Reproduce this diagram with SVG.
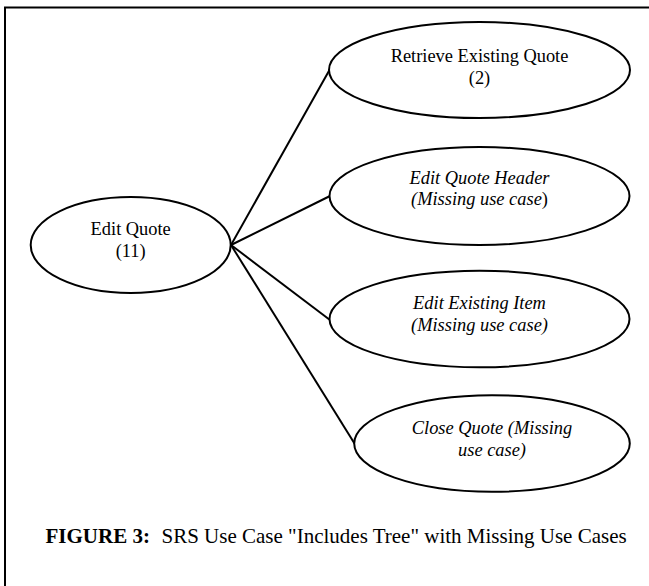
<svg xmlns="http://www.w3.org/2000/svg" width="649" height="586" viewBox="0 0 649 586">
<style>
.node ellipse { fill: #fff; stroke: #000; stroke-width: 2; }
.node text { font-family: "Liberation Serif", "Times New Roman", serif; font-size: 18.4px; fill: #000; text-anchor: middle; }
.it { font-style: italic; }
.conn line { stroke: #000; stroke-width: 2; }
.cap { font-family: "Liberation Serif", "Times New Roman", serif; font-size: 21px; fill: #000; }
</style>
<rect width="649" height="586" fill="#fff"/>
<g id="frame" fill="none" stroke="#000" stroke-width="2">
  <path d="M5,586 V7.5 H649"/>
</g>
<g id="connectors" class="conn">
  <line x1="231" y1="245" x2="329.5" y2="70"/>
  <line x1="231" y1="245" x2="330" y2="196"/>
  <line x1="231" y1="245" x2="330" y2="320"/>
  <line x1="231" y1="245" x2="354.5" y2="443.5"/>
</g>
<g id="edit-quote" class="node">
  <ellipse cx="130.7" cy="245" rx="100" ry="48"/>
  <text x="130.7" y="235">Edit Quote</text>
  <text x="130.7" y="256.7">(11)</text>
</g>
<g id="retrieve-existing-quote" class="node">
  <ellipse cx="479.5" cy="70" rx="150.5" ry="48"/>
  <text x="479.5" y="62">Retrieve Existing Quote</text>
  <text x="479.5" y="84">(2)</text>
</g>
<g id="edit-quote-header" class="node">
  <ellipse cx="479.5" cy="196" rx="150" ry="49"/>
  <text x="479.5" y="184.3" class="it">Edit Quote Header</text>
  <text x="479.5" y="205"><tspan class="it">(Missing use case</tspan>)</text>
</g>
<g id="edit-existing-item" class="node">
  <ellipse cx="479.5" cy="319" rx="150" ry="48.3"/>
  <text x="479.5" y="309.3" class="it">Edit Existing Item</text>
  <text x="479.5" y="330.7" class="it">(Missing use case)</text>
</g>
<g id="close-quote" class="node">
  <ellipse cx="492" cy="443.5" rx="137.8" ry="48.3"/>
  <text x="492" y="434" class="it">Close Quote (Missing</text>
  <text x="492" y="456" class="it">use case)</text>
</g>
<g id="caption">
  <text class="cap" x="45.5" y="543"><tspan font-weight="bold">FIGURE 3:</tspan><tspan x="161.5">SRS Use Case "Includes Tree" with Missing Use Cases</tspan></text>
</g>
</svg>
